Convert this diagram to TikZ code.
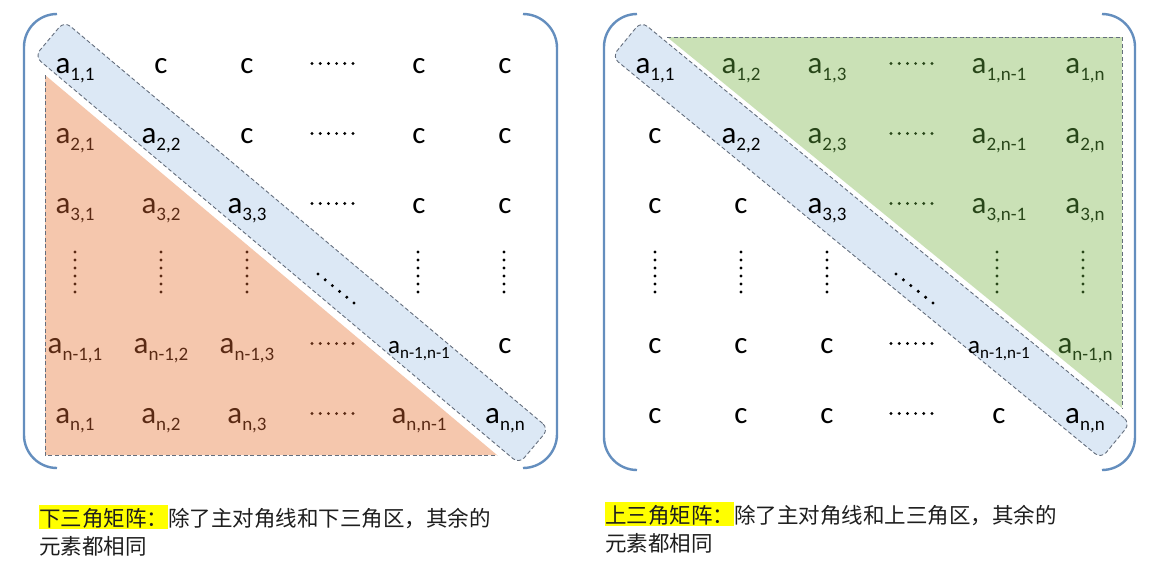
\documentclass[tikz,border=0pt]{standalone}
\usepackage{fontspec}
\setmainfont{Carlito}
\newfontfamily\cjk{Noto Sans CJK SC}
\definecolor{bandblue}{RGB}{220,232,245}
\definecolor{orangefill}{RGB}{245,199,173}
\definecolor{greenfill}{RGB}{202,225,182}
\definecolor{bracketblue}{RGB}{100,142,190}
\definecolor{dashgray}{RGB}{100,110,125}
\definecolor{brownt}{RGB}{90,42,20}
\definecolor{greent}{RGB}{40,70,25}
\definecolor{hl}{RGB}{255,255,0}
\definecolor{captxt}{RGB}{30,30,30}
\newcommand\ent[1]{a\raisebox{-7pt}{\fontsize{19}{19}\selectfont #1}}
\newcommand\sment[1]{{\fontsize{25}{25}\selectfont a\raisebox{-5.5pt}{\fontsize{17}{17}\selectfont #1}}}
\newcommand\hlbox[1]{{\setlength{\fboxsep}{0pt}\colorbox{hl}{\rule[-2.5pt]{0pt}{24.5pt}#1}}}
\tikzset{
  cell/.style={anchor=base, inner sep=0pt, font=\fontsize{31}{31}\selectfont, text=black},
  lowc/.style={cell, text=brownt},
  upc/.style={cell, text=greent},
  band/.style={draw=dashgray, dash pattern=on 4pt off 2.5pt, line width=0.9pt, fill=bandblue, rounded corners=8pt, minimum width=633pt, minimum height=46pt, inner sep=0pt},
  dashedge/.style={draw=dashgray, dash pattern=on 4pt off 2.5pt, line width=0.9pt},
  paren/.style={draw=bracketblue, line width=2.4pt},
  captext/.style={anchor=base west, inner sep=0pt, font=\cjk\fontsize{21.5}{21.5}\selectfont, text=captxt}
}
\begin{document}
\begin{tikzpicture}[x=1pt,y=1pt]
\fill[white] (0,0) rectangle (1157,-560);
\useasboundingbox (0,0) rectangle (1157,-560);

% ---------- triangles ----------
\fill[orangefill] (45,-75) -- (45,-455) -- (497,-455) -- cycle;
\draw[dashedge] (45,-75) -- (45,-455) -- (497,-455);
\fill[greenfill] (667,-37) -- (1122,-37) -- (1122,-408) -- cycle;
\draw[dashedge] (667,-37) -- (1122,-37) -- (1122,-408);

% ---------- diagonal bands ----------
\node[band, rotate=-40.06] (bandL) at (291.75,-242.5) {};
\node[band, rotate=-39.4] (bandR) at (871.2,-240) {};

% ---------- left matrix ----------
% row 1
\node[cell] (L11) at (75,-73) {\ent{1,1}};
\node[cell] (L12) at (161,-73) {c};
\node[cell] (L13) at (247,-73) {c};
\node[cell] (L15) at (419,-73) {c};
\node[cell] (L16) at (505,-73) {c};
% row 2
\node[lowc] (L21) at (75,-143) {\ent{2,1}};
\node[cell] (L22) at (161,-143) {\ent{2,2}};
\node[cell] (L23) at (247,-143) {c};
\node[cell] (L25) at (419,-143) {c};
\node[cell] (L26) at (505,-143) {c};
% row 3
\node[lowc] (L31) at (75,-213) {\ent{3,1}};
\node[lowc] (L32) at (161,-213) {\ent{3,2}};
\node[cell] (L33) at (247,-213) {\ent{3,3}};
\node[cell] (L35) at (419,-213) {c};
\node[cell] (L36) at (505,-213) {c};
% row 5
\node[lowc] (L51) at (75,-353) {\ent{n-1,1}};
\node[lowc] (L52) at (161,-353) {\ent{n-1,2}};
\node[lowc] (L53) at (247,-353) {\ent{n-1,3}};
\node[cell] (L55) at (419,-353) {\sment{n-1,n-1}};
\node[cell] (L56) at (505,-353) {c};
% row 6
\node[lowc] (L61) at (75,-423) {\ent{n,1}};
\node[lowc] (L62) at (161,-423) {\ent{n,2}};
\node[lowc] (L63) at (247,-423) {\ent{n,3}};
\node[lowc] (L65) at (419,-423) {\ent{n,n-1}};
\node[cell] (L66) at (505,-423) {\ent{n,n}};

% left dots
\foreach \y in {63.5,133.5,203.5}
  \foreach \i in {0,...,5} \fill[black] ({312+\i*8.2},-\y) circle (1.6);
\foreach \y in {343.5,413.5}
  \foreach \i in {0,...,5} \fill[brownt] ({312+\i*8.2},-\y) circle (1.6);
\foreach \x in {75,161,247}
  \foreach \i in {0,...,5} \fill[brownt] (\x,{-252-\i*8}) circle (1.6);
\foreach \x in {418,504}
  \foreach \i in {0,...,5} \fill[black] (\x,{-252-\i*8}) circle (1.6);
\foreach \i in {0,...,5} \fill[black] ({318+\i*7.2},{-274-\i*5.8}) circle (1.7);

% ---------- right matrix ----------
% row 1
\node[cell] (R11) at (655,-73) {\ent{1,1}};
\node[upc] (R12) at (741,-73) {\ent{1,2}};
\node[upc] (R13) at (827,-73) {\ent{1,3}};
\node[upc] (R15) at (999,-73) {\ent{1,n-1}};
\node[upc] (R16) at (1085,-73) {\ent{1,n}};
% row 2
\node[cell] (R21) at (655,-143) {c};
\node[cell] (R22) at (741,-143) {\ent{2,2}};
\node[upc] (R23) at (827,-143) {\ent{2,3}};
\node[upc] (R25) at (999,-143) {\ent{2,n-1}};
\node[upc] (R26) at (1085,-143) {\ent{2,n}};
% row 3
\node[cell] (R31) at (655,-213) {c};
\node[cell] (R32) at (741,-213) {c};
\node[cell] (R33) at (827,-213) {\ent{3,3}};
\node[upc] (R35) at (999,-213) {\ent{3,n-1}};
\node[upc] (R36) at (1085,-213) {\ent{3,n}};
% row 5
\node[cell] (R51) at (655,-353) {c};
\node[cell] (R52) at (741,-353) {c};
\node[cell] (R53) at (827,-353) {c};
\node[cell] (R55) at (999,-353) {\sment{n-1,n-1}};
\node[upc] (R56) at (1085,-353) {\ent{n-1,n}};
% row 6
\node[cell] (R61) at (655,-423) {c};
\node[cell] (R62) at (741,-423) {c};
\node[cell] (R63) at (827,-423) {c};
\node[cell] (R65) at (999,-423) {c};
\node[cell] (R66) at (1085,-423) {\ent{n,n}};

% right dots
\foreach \y in {63.5,133.5,203.5}
  \foreach \i in {0,...,5} \fill[greent] ({891+\i*8.2},-\y) circle (1.6);
\foreach \y in {343.5,413.5}
  \foreach \i in {0,...,5} \fill[black] ({891+\i*8.2},-\y) circle (1.6);
\foreach \x in {655,741,827}
  \foreach \i in {0,...,5} \fill[black] (\x,{-252-\i*8}) circle (1.6);
\foreach \x in {997,1083}
  \foreach \i in {0,...,5} \fill[greent] (\x,{-252-\i*8}) circle (1.6);
\foreach \i in {0,...,5} \fill[black] ({896+\i*7.4},{-274-\i*5.8}) circle (1.7);

% ---------- brackets ----------
\draw[paren] (57,-14) arc[start angle=90,end angle=180,radius=33] -- (24,-435) arc[start angle=180,end angle=270,radius=33];
\draw[paren] (523,-14) arc[start angle=90,end angle=0,radius=34] -- (557,-434) arc[start angle=0,end angle=-90,radius=34];
\draw[paren] (637,-14) arc[start angle=90,end angle=180,radius=33] -- (604,-437) arc[start angle=180,end angle=270,radius=33];
\draw[paren] (1102,-14) arc[start angle=90,end angle=0,radius=33] -- (1135,-437) arc[start angle=0,end angle=-90,radius=33];

% ---------- captions ----------
\node[captext] (capL1) at (39,-526.5) {\hlbox{下三角矩阵：}除了主对角线和下三角区，其余的};
\node[captext] (capL2) at (39,-554) {元素都相同};
\node[captext] (capR1) at (605,-523.5) {\hlbox{上三角矩阵：}除了主对角线和上三角区，其余的};
\node[captext] (capR2) at (605,-551.5) {元素都相同};
\end{tikzpicture}
\end{document}
